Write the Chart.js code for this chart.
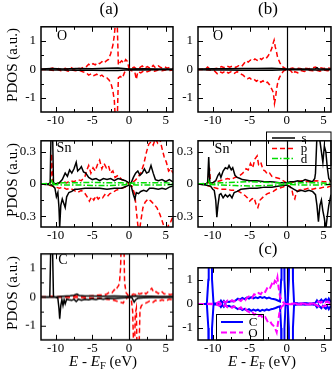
<!DOCTYPE html>
<html>
<head>
<meta charset="utf-8">
<script src="https://cdn.jsdelivr.net/npm/chart.js@4.4.1/dist/chart.umd.min.js"></script>
<style>
  body { margin: 0; background: #fff; }
  #fig { position: relative; width: 332px; height: 373px; overflow: hidden; background: #fff;
         font-family: "Liberation Serif", "Times New Roman", serif; color: #000; }
  .t { position: absolute; transform: translate(-50%, -50%); white-space: nowrap; line-height: 1; }
  .rot { transform: translate(-50%, -50%) rotate(-90deg); }
  sub { font-size: 70%; vertical-align: -0.3em; }
</style>
</head>
<body>
<div id="fig">
  <div class="t" style="left:109px;top:8px;font-size:17px">(a)</div>
  <div class="t" style="left:268px;top:8px;font-size:17px">(b)</div>
  <div class="t" style="left:268px;top:248px;font-size:17px">(c)</div>

  <div class="t rot" style="left:12px;top:65px;font-size:15px">PDOS (a.u.)</div>
  <div class="t rot" style="left:12px;top:180px;font-size:15px">PDOS (a.u.)</div>
  <div class="t rot" style="left:12px;top:293px;font-size:15px">PDOS (a.u.)</div>

  <div class="t" style="left:103px;top:363px;font-size:15px"><i>E</i> - <i>E</i><sub>F</sub> (eV)</div>
  <div class="t" style="left:262px;top:363px;font-size:15px"><i>E</i> - <i>E</i><sub>F</sub> (eV)</div>

  <div class="t" style="left:62px;top:36px;font-size:14px">O</div>
  <div class="t" style="left:218px;top:36px;font-size:14px">O</div>
  <div class="t" style="left:64px;top:148px;font-size:14px">Sn</div>
  <div class="t" style="left:222px;top:149px;font-size:14px">Sn</div>
  <div class="t" style="left:63px;top:260px;font-size:14px">C</div>
</div>
<script>
// axis ranges and ticks
const xRange = [-12, 6];
const xTicks = [-10, -5, 0, 5];
const xMinor = [-7.5, -2.5, 2.5];
const yTicksO = [-1, 0, 1];
const yMinorO = [-0.5, 0.5];
const yTicksSn = [-0.3, 0, 0.3];
const yMinorSn = [-0.15, 0.15];

// (a) O
const aO_p_up = [[-12,0],[-11,0.01],[-10.4,0.05],[-10.1,0],[-9.6,0.03],[-9.2,-0.02],[-8.7,0.04],[-8.3,0],[-7.9,0.06],[-7.5,0.01],[-7.1,0.05],[-6.6,0.02],[-6.2,0.08],[-5.8,0.1],[-5.5,0.18],[-5.2,0.14],[-4.9,0.2],[-4.6,0.16],[-4.3,0.24],[-4,0.2],[-3.7,0.27],[-3.4,0.22],[-3.1,0.3],[-2.8,0.35],[-2.5,0.55],[-2.2,0.85],[-2,1.2],[-1.8,1.8],[-1.6,1.6],[-1.45,0.15],[-1.2,0.25],[-1,0.3],[-0.7,0.22],[-0.45,0.35],[-0.2,0.28],[0,0.02],[0.3,0.03],[0.7,0.08],[1,0.02],[1.4,0.05],[1.8,0.12],[2.1,0.04],[2.5,0.1],[2.9,0.03],[3.3,0.14],[3.6,0.06],[4,0.12],[4.4,0.05],[4.8,0.1],[5.2,0.04],[5.6,0.08],[6,0.03]];
const aO_p_dn = [[-12,0],[-11,-0.01],[-10.3,-0.04],[-9.8,0],[-9.3,-0.05],[-8.8,-0.01],[-8.3,-0.06],[-7.8,-0.02],[-7.3,-0.05],[-6.8,-0.03],[-6.3,-0.08],[-5.8,-0.12],[-5.5,-0.2],[-5.1,-0.15],[-4.8,-0.22],[-4.4,-0.17],[-4.1,-0.25],[-3.7,-0.2],[-3.4,-0.28],[-3,-0.3],[-2.7,-0.38],[-2.4,-0.55],[-2.2,-0.75],[-2,-1.1],[-1.85,-1.8],[-1.6,-1.8],[-1.45,-0.3],[-1.2,-0.25],[-0.9,-0.3],[-0.6,-0.1],[-0.3,-0.05],[0,-0.01],[0.4,-0.05],[0.8,-0.1],[1,-0.35],[1.2,-0.08],[1.6,-0.12],[2,-0.05],[2.5,-0.08],[3,-0.03],[3.5,-0.06],[4,-0.02],[4.5,-0.05],[5,-0.02],[5.5,-0.04],[6,-0.02]];
const aO_s_up = [[-12,0.01],[-10.5,0.03],[-9,0.01],[-7,0.03],[-5,0.02],[-3,0.04],[-1.5,0.05],[0,0.01],[2,0.02],[4,0.01],[6,0.01]];
const aO_s_dn = [[-12,-0.01],[-10.5,-0.02],[-9,-0.02],[-7,-0.03],[-5,-0.03],[-3,-0.04],[-1.5,-0.04],[0,-0.01],[2,-0.02],[4,-0.01],[6,-0.01]];

// (b) O
const bO_p_up = [[-12,0],[-11,0.01],[-10.7,0.08],[-10.4,0.01],[-9.8,0.02],[-9.2,0.05],[-8.8,0.1],[-8.5,0.06],[-8.1,0.12],[-7.7,0.08],[-7.3,0.12],[-6.9,0.07],[-6.5,0.13],[-6.1,0.1],[-5.8,0.2],[-5.5,0.3],[-5.2,0.26],[-4.9,0.33],[-4.6,0.3],[-4.3,0.37],[-4,0.32],[-3.7,0.4],[-3.4,0.35],[-3.1,0.42],[-2.8,0.38],[-2.5,0.48],[-2.2,0.62],[-2,0.75],[-1.8,0.95],[-1.7,1.03],[-1.55,0.8],[-1.4,0.65],[-1.25,0.45],[-1.1,0.35],[-0.9,0.22],[-0.6,0.1],[-0.3,0.05],[0,0.01],[0.4,0.02],[0.8,0.05],[1.2,0.01],[1.6,0.04],[2,0.02],[2.5,0.04],[3,0.02],[3.5,0.05],[3.9,0.08],[4.2,0.03],[4.6,0.06],[5,0.03],[5.5,0.06],[6,0.03]];
const bO_p_dn = [[-12,0],[-11,-0.01],[-10.5,-0.02],[-9.8,-0.05],[-9.4,-0.15],[-9.1,-0.08],[-8.7,-0.12],[-8.3,-0.06],[-7.9,-0.13],[-7.5,-0.08],[-7.1,-0.14],[-6.7,-0.08],[-6.3,-0.15],[-5.9,-0.2],[-5.6,-0.28],[-5.3,-0.33],[-5,-0.3],[-4.7,-0.37],[-4.4,-0.35],[-4.1,-0.42],[-3.8,-0.36],[-3.5,-0.45],[-3.2,-0.4],[-2.9,-0.48],[-2.6,-0.45],[-2.3,-0.55],[-2,-0.7],[-1.8,-0.82],[-1.65,-1.2],[-1.5,-1],[-1.4,-0.75],[-1.2,-0.45],[-1,-0.3],[-0.7,-0.15],[-0.4,-0.05],[0,-0.01],[0.5,-0.03],[0.9,-0.16],[1.1,-0.08],[1.5,-0.12],[1.9,-0.04],[2.4,-0.07],[3,-0.03],[3.5,-0.05],[4,-0.03],[4.5,-0.06],[5,-0.02],[5.5,-0.05],[6,-0.02]];
const bO_s_up = [[-12,0.01],[-10,0.02],[-8,0.02],[-6,0.03],[-4,0.03],[-2,0.04],[0,0.01],[2,0.01],[3.9,0.02],[4.1,0.06],[4.3,0.02],[6,0.01]];
const bO_s_dn = [[-12,-0.01],[-10,-0.02],[-8,-0.02],[-6,-0.03],[-4,-0.03],[-2,-0.03],[0,-0.01],[2,-0.01],[4,-0.02],[6,-0.01]];

// (a) Sn
const aSn_s_up = [[-12,0],[-11,0],[-10.75,0.01],[-10.6,0.6],[-10.45,0.6],[-10.3,0.01],[-10,0],[-9.5,0.01],[-9.1,0.04],[-8.7,0.1],[-8.4,0.07],[-8.1,0.13],[-7.8,0.1],[-7.5,0.14],[-7.2,0.2],[-7,0.12],[-6.7,0.14],[-6.5,0.16],[-6.2,0.11],[-5.9,0.1],[-5.5,0.06],[-5,0.04],[-4.5,0.05],[-4,0.03],[-3.5,0.05],[-3,0.04],[-2.5,0.05],[-2,0.03],[-1.5,0.05],[-1,0.04],[-0.5,0.03],[0,0.01],[0.3,0.01],[0.6,0.06],[0.9,0.1],[1.2,0.12],[1.5,0.08],[1.8,0.1],[2.1,0.14],[2.4,0.1],[2.7,0.11],[3,0.17],[3.3,0.1],[3.6,0.04],[4,0.03],[4.5,0.04],[5,0.02],[5.5,0.04],[6,0.02]];
const aSn_s_dn = [[-12,0],[-10.5,-0.01],[-10.1,-0.04],[-9.9,-0.12],[-9.7,-0.08],[-9.55,-0.22],[-9.45,-0.4],[-9.3,-0.2],[-9.1,-0.14],[-8.9,-0.18],[-8.7,-0.22],[-8.5,-0.12],[-8.2,-0.08],[-7.8,-0.07],[-7.4,-0.05],[-7,-0.05],[-6,-0.04],[-5,-0.04],[-4,-0.04],[-3,-0.05],[-2,-0.04],[-1,-0.04],[-0.3,-0.02],[0,-0.01],[0.3,-0.02],[0.6,-0.1],[0.8,-0.14],[1,-0.08],[1.3,-0.09],[1.6,-0.07],[2,-0.06],[2.4,-0.07],[2.8,-0.04],[3.3,-0.04],[4,-0.05],[4.5,-0.04],[5,-0.05],[5.5,-0.03],[6,-0.02]];
const aSn_p_up = [[-12,0],[-11,0],[-10.7,0.01],[-10.55,0.28],[-10.4,0.01],[-10,0],[-9.5,0.01],[-9,0.02],[-8.5,0.01],[-8,0.03],[-7.5,0.02],[-7,0.04],[-6.5,0.03],[-6,0.07],[-5.8,0.12],[-5.5,0.17],[-5.2,0.1],[-4.9,0.15],[-4.6,0.12],[-4.3,0.18],[-4,0.22],[-3.7,0.14],[-3.4,0.19],[-3.1,0.15],[-2.8,0.17],[-2.5,0.1],[-2.2,0.12],[-1.9,0.06],[-1.5,0.08],[-1,0.04],[-0.5,0.03],[0,0],[0.4,0.01],[0.8,0.03],[1.2,0.06],[1.6,0.1],[2,0.18],[2.4,0.3],[2.7,0.37],[3,0.39],[3.3,0.36],[3.6,0.42],[3.9,0.38],[4.2,0.42],[4.5,0.33],[4.8,0.25],[5.1,0.2],[5.4,0.12],[5.7,0.14],[6,0.1]];
const aSn_p_dn = [[-12,0],[-11,-0.01],[-10.5,-0.02],[-10,-0.03],[-9.5,-0.04],[-9,-0.03],[-8.5,-0.05],[-8,-0.04],[-7.5,-0.06],[-7,-0.08],[-6.5,-0.06],[-6,-0.09],[-5.7,-0.12],[-5.4,-0.16],[-5.1,-0.12],[-4.8,-0.15],[-4.5,-0.11],[-4.2,-0.14],[-3.9,-0.12],[-3.6,-0.13],[-3.3,-0.1],[-3,-0.12],[-2.6,-0.09],[-2.2,-0.08],[-1.8,-0.06],[-1.4,-0.05],[-1,-0.04],[-0.5,-0.03],[0,-0.01],[0.4,-0.02],[0.8,-0.1],[1,-0.25],[1.2,-0.38],[1.4,-0.45],[1.6,-0.35],[1.9,-0.22],[2.2,-0.17],[2.6,-0.14],[3,-0.16],[3.4,-0.19],[3.8,-0.22],[4.2,-0.28],[4.5,-0.34],[4.8,-0.4],[5.1,-0.45],[5.4,-0.38],[5.7,-0.35],[6,-0.3]];
const aSn_d_up = [[-12,0],[-10.7,0.005],[-10.55,0.03],[-10.4,0.005],[-9,0.01],[-7,0.01],[-5,0.015],[-3,0.01],[-1,0.01],[0,0.005],[1,0.01],[3,0.01],[5,0.01],[6,0.005]];
const aSn_d_dn = [[-12,0],[-10.5,-0.005],[-9,-0.01],[-7,-0.01],[-5,-0.015],[-3,-0.015],[-1,-0.01],[0,-0.005],[1,-0.01],[3,-0.01],[5,-0.01],[6,-0.005]];

// (b) Sn
const bSn_s_up = [[-12,0],[-11,0],[-10.7,0.01],[-10.55,0.25],[-10.4,0.01],[-10,0.01],[-9.6,0.03],[-9.3,0.08],[-9.1,0.1],[-8.9,0.06],[-8.6,0.12],[-8.3,0.15],[-8,0.14],[-7.8,0.17],[-7.5,0.13],[-7.3,0.15],[-7,0.08],[-6.7,0.06],[-6.3,0.05],[-6,0.04],[-5,0.03],[-4,0.03],[-3,0.02],[-2,0.02],[-1,0.01],[0,0.01],[0.5,0.02],[1,0.02],[1.5,0.03],[2,0.02],[2.5,0.04],[3,0.03],[3.5,0.02],[3.8,0.05],[3.9,0.1],[4.1,0.45],[4.3,0.5],[4.5,0.4],[4.7,0.3],[4.9,0.2],[5.1,0.35],[5.3,0.3],[5.5,0.15],[5.7,0.05],[6,0.02]];
const bSn_s_dn = [[-12,0],[-11,-0.01],[-10.3,-0.02],[-10,-0.05],[-9.8,-0.06],[-9.6,-0.15],[-9.45,-0.31],[-9.3,-0.2],[-9.1,-0.1],[-8.9,-0.09],[-8.6,-0.13],[-8.3,-0.1],[-8,-0.12],[-7.7,-0.1],[-7.4,-0.13],[-7.1,-0.08],[-6.7,-0.07],[-6.2,-0.05],[-5,-0.04],[-4,-0.04],[-3,-0.03],[-2,-0.03],[-1,-0.02],[0,-0.01],[0.5,-0.03],[1,-0.05],[1.5,-0.07],[2,-0.06],[2.5,-0.07],[3,-0.06],[3.5,-0.07],[3.9,-0.1],[4.1,-0.2],[4.3,-0.35],[4.5,-0.2],[4.7,-0.15],[4.9,-0.25],[5.1,-0.32],[5.3,-0.42],[5.5,-0.3],[5.7,-0.2],[6,-0.1]];
const bSn_p_up = [[-12,0],[-11,0],[-10.6,0.01],[-10.45,0.15],[-10.3,0.01],[-10,0.01],[-9.5,0.02],[-9,0.03],[-8.5,0.04],[-8,0.05],[-7.5,0.04],[-7,0.06],[-6.5,0.07],[-6.1,0.09],[-5.8,0.11],[-5.5,0.14],[-5.2,0.13],[-4.9,0.19],[-4.6,0.15],[-4.3,0.23],[-4,0.26],[-3.8,0.18],[-3.5,0.2],[-3.2,0.13],[-2.9,0.12],[-2.6,0.09],[-2.3,0.1],[-2,0.07],[-1.5,0.06],[-1,0.05],[-0.5,0.03],[0,0.01],[0.5,0.01],[1,0.02],[1.5,0.02],[2,0.03],[3,0.02],[4,0.03],[5,0.02],[6,0.02]];
const bSn_p_dn = [[-12,0],[-11,-0.01],[-10.5,-0.02],[-10,-0.03],[-9.5,-0.04],[-9,-0.05],[-8.5,-0.05],[-8,-0.05],[-7.5,-0.06],[-7,-0.06],[-6.5,-0.07],[-6,-0.09],[-5.6,-0.11],[-5.3,-0.13],[-5,-0.16],[-4.7,-0.14],[-4.4,-0.13],[-4.1,-0.2],[-3.9,-0.22],[-3.6,-0.15],[-3.3,-0.13],[-3,-0.11],[-2.6,-0.09],[-2.2,-0.08],[-1.8,-0.07],[-1.4,-0.05],[-1,-0.04],[-0.5,-0.03],[0,-0.01],[0.4,-0.02],[0.7,-0.05],[0.9,-0.12],[1.1,-0.14],[1.3,-0.08],[1.6,-0.06],[2,-0.05],[2.5,-0.05],[3,-0.04],[3.5,-0.05],[4,-0.04],[4.5,-0.04],[5,-0.03],[5.5,-0.03],[6,-0.02]];
const bSn_d_up = [[-12,0],[-10.7,0.005],[-10.55,0.03],[-10.4,0.005],[-9,0.01],[-7,0.015],[-5,0.02],[-3,0.015],[-1,0.01],[0,0.005],[2,0.01],[4,0.01],[6,0.005]];
const bSn_d_dn = [[-12,0],[-10.5,-0.005],[-9,-0.01],[-7,-0.015],[-5,-0.02],[-3,-0.015],[-1,-0.01],[0,-0.005],[2,-0.01],[4,-0.01],[6,-0.005]];

// (a) C
const aC_s_up = [[-12,0],[-11,0],[-10.8,0.01],[-10.65,2],[-10.45,2],[-10.3,0.01],[-10,0],[-9.5,0.01],[-9,0.02],[-8.5,0.03],[-8,0.04],[-7.5,0.06],[-7.1,0.1],[-6.8,0.05],[-6.4,0.04],[-6,0.03],[-5,0.03],[-4,0.02],[-3,0.02],[-2,0.03],[-1,0.02],[0,0.01],[0.5,0.02],[1,0.03],[2,0.02],[3,0.02],[4,0.01],[5,0.01],[6,0.01]];
const aC_s_dn = [[-12,0],[-10,-0.01],[-9.7,-0.05],[-9.55,-0.4],[-9.45,-0.77],[-9.3,-0.3],[-9.15,-0.1],[-9,-0.3],[-8.85,-0.1],[-8.7,-0.24],[-8.5,-0.08],[-8.2,-0.1],[-7.8,-0.12],[-7.5,-0.08],[-7.2,-0.16],[-6.9,-0.08],[-6.5,-0.12],[-6,-0.08],[-5.5,-0.1],[-5,-0.07],[-4.5,-0.09],[-4,-0.06],[-3.5,-0.08],[-3,-0.05],[-2,-0.06],[-1,-0.04],[-0.5,-0.03],[0,-0.01],[0.4,-0.03],[0.7,-0.18],[0.9,-0.1],[1.2,-0.05],[2,-0.03],[3,-0.02],[4,-0.02],[5,-0.02],[6,-0.01]];
const aC_p_up = [[-12,0],[-11,0],[-10.5,0.02],[-10,0],[-9,0.01],[-8,0.02],[-7,0.03],[-6,0.02],[-5,0.04],[-4.5,0.05],[-4,0.07],[-3.5,0.06],[-3,0.1],[-2.6,0.18],[-2.3,0.15],[-2,0.25],[-1.8,0.22],[-1.6,0.33],[-1.4,0.4],[-1.3,0.5],[-1.15,1],[-1.05,2],[-0.7,2],[-0.6,0.5],[-0.4,0.15],[-0.1,0.05],[0,0.02],[0.3,0.05],[0.6,0.1],[0.9,0.08],[1.1,0.15],[1.4,0.1],[1.7,0.12],[2,0.18],[2.3,0.1],[2.7,0.2],[3.1,0.3],[3.4,0.15],[3.7,0.18],[4,0.12],[4.4,0.2],[4.8,0.1],[5.2,0.12],[5.6,0.08],[6,0.1]];
const aC_p_dn = [[-12,0],[-11,0],[-10,-0.01],[-9,-0.01],[-8,-0.02],[-7,-0.02],[-6,-0.03],[-5,-0.04],[-4,-0.05],[-3.5,-0.06],[-3,-0.08],[-2.5,-0.1],[-2,-0.12],[-1.6,-0.15],[-1.3,-0.18],[-1,-0.2],[-0.8,-0.22],[-0.5,-0.08],[-0.2,-0.03],[0,-0.01],[0.3,-0.05],[0.5,-0.5],[0.65,-2],[0.75,-2],[0.85,-0.6],[1,-0.4],[1.1,-2],[1.35,-2],[1.5,-0.45],[1.7,-0.3],[2,-0.25],[2.4,-0.2],[2.8,-0.15],[3.2,-0.2],[3.6,-0.12],[4,-0.15],[4.5,-0.1],[5,-0.14],[5.5,-0.08],[6,-0.1]];

// (c) C and O
const c_C_up = [[-12,0],[-11,0],[-10.8,0.02],[-10.6,1],[-10.55,3],[-10.15,3],[-10.1,1],[-9.9,0.02],[-9.5,0.02],[-9.1,0.05],[-8.9,0.14],[-8.7,0.04],[-8.5,0.12],[-8.3,0.03],[-8.1,0.1],[-7.8,0.08],[-7.5,0.12],[-7.2,0.1],[-6.9,0.15],[-6.6,0.22],[-6.3,0.18],[-6,0.25],[-5.7,0.2],[-5.4,0.26],[-5.1,0.22],[-4.8,0.28],[-4.5,0.23],[-4.2,0.27],[-3.9,0.24],[-3.6,0.29],[-3.3,0.25],[-3,0.28],[-2.7,0.23],[-2.4,0.26],[-2.1,0.22],[-1.8,0.2],[-1.5,0.18],[-1.2,0.14],[-0.9,0.1],[-0.75,1],[-0.7,3],[-0.35,3],[-0.3,1],[-0.15,0.05],[0.15,0.05],[0.3,1],[0.35,3],[0.8,3],[0.85,1],[1,0.05],[1.5,0.03],[2,0.02],[2.5,0.04],[3,0.02],[3.5,0.03],[3.9,0.05],[4.1,0.15],[4.3,0.06],[4.5,0.12],[4.7,0.18],[4.9,0.08],[5.1,0.15],[5.3,0.2],[5.5,0.1],[5.7,0.22],[5.9,0.12],[6,0.08]];
const c_C_dn = [[-12,0],[-11,0],[-10.8,-0.02],[-10.6,-1],[-10.55,-3],[-10.15,-3],[-10.1,-1],[-9.9,-0.02],[-9.5,-0.02],[-9.1,-0.05],[-8.9,-0.13],[-8.7,-0.04],[-8.5,-0.12],[-8.3,-0.03],[-8.1,-0.1],[-7.8,-0.08],[-7.5,-0.13],[-7.2,-0.1],[-6.9,-0.16],[-6.6,-0.22],[-6.3,-0.18],[-6,-0.26],[-5.7,-0.21],[-5.4,-0.27],[-5.1,-0.22],[-4.8,-0.29],[-4.5,-0.24],[-4.2,-0.28],[-3.9,-0.24],[-3.6,-0.3],[-3.3,-0.25],[-3,-0.28],[-2.7,-0.23],[-2.4,-0.26],[-2.1,-0.22],[-1.8,-0.2],[-1.5,-0.17],[-1.2,-0.13],[-0.9,-0.1],[-0.75,-1],[-0.7,-3],[-0.35,-3],[-0.3,-1],[-0.15,-0.05],[0.15,-0.05],[0.3,-1],[0.35,-3],[0.8,-3],[0.85,-1],[1,-0.05],[1.5,-0.03],[2,-0.02],[2.5,-0.04],[3,-0.02],[3.5,-0.03],[3.9,-0.05],[4.1,-0.14],[4.3,-0.06],[4.5,-0.12],[4.7,-0.18],[4.9,-0.08],[5.1,-0.15],[5.3,-0.2],[5.5,-0.1],[5.7,-0.22],[5.9,-0.12],[6,-0.08]];
const c_O_up = [[-12,0],[-11,0],[-10,0.01],[-9.5,0.02],[-9.2,0.08],[-8.9,0.03],[-8.6,0.12],[-8.3,0.05],[-8,0.14],[-7.7,0.08],[-7.4,0.15],[-7.1,0.1],[-6.8,0.13],[-6.5,0.18],[-6.2,0.12],[-5.9,0.22],[-5.6,0.16],[-5.3,0.28],[-5,0.33],[-4.7,0.25],[-4.4,0.4],[-4.1,0.36],[-3.8,0.45],[-3.5,0.4],[-3.2,0.55],[-2.9,0.5],[-2.6,0.68],[-2.3,0.62],[-2,0.83],[-1.8,0.75],[-1.6,0.96],[-1.4,0.9],[-1.25,1.1],[-1.1,0.7],[-0.9,0.3],[-0.6,0.1],[-0.3,0.02],[0,0],[0.5,0.01],[1,0.02],[1.5,0.01],[2,0.02],[2.5,0.01],[3,0.02],[3.5,0.01],[4,0.04],[4.3,0.1],[4.6,0.05],[4.9,0.12],[5.2,0.06],[5.5,0.1],[5.8,0.04],[6,0.02]];
const c_O_dn = [[-12,0],[-11,0],[-10,-0.01],[-9.5,-0.02],[-9.2,-0.07],[-8.9,-0.03],[-8.6,-0.12],[-8.3,-0.05],[-8,-0.14],[-7.7,-0.09],[-7.4,-0.16],[-7.1,-0.1],[-6.8,-0.15],[-6.5,-0.2],[-6.2,-0.14],[-5.9,-0.25],[-5.6,-0.2],[-5.3,-0.3],[-5,-0.35],[-4.7,-0.3],[-4.4,-0.45],[-4.1,-0.4],[-3.8,-0.5],[-3.5,-0.46],[-3.2,-0.6],[-2.9,-0.55],[-2.6,-0.72],[-2.3,-0.68],[-2,-0.85],[-1.8,-0.9],[-1.6,-1.0],[-1.45,-1.1],[-1.35,-1.18],[-1.2,-0.85],[-1,-0.4],[-0.7,-0.12],[-0.3,-0.02],[0,0],[0.5,-0.01],[1,-0.02],[1.5,-0.01],[2,-0.02],[2.5,-0.01],[3,-0.02],[3.5,-0.01],[4,-0.04],[4.3,-0.1],[4.6,-0.05],[4.9,-0.12],[5.2,-0.06],[5.5,-0.1],[5.8,-0.04],[6,-0.02]];

Chart.defaults.font.family = '"Liberation Serif", "Times New Roman", serif';
Chart.defaults.font.size = 13;
Chart.defaults.color = '#000';

const black = (d) => ({ data: d, borderColor: '#000', borderWidth: 1.5 });
const red = (d) => ({ data: d, borderColor: '#ff0000', borderWidth: 1.5, borderDash: [5, 3] });
const green = (d) => ({ data: d, borderColor: '#00dd00', borderWidth: 1.5, borderDash: [6, 2, 1.5, 2] });
const blue = (d) => ({ data: d, borderColor: '#0000ff', borderWidth: 2 });
const magenta = (d) => ({ data: d, borderColor: '#ff00ff', borderWidth: 2, borderDash: [6, 3] });

// box, inward ticks, Fermi line, legend samples
const frame = {
  id: 'frame',
  beforeDatasetsDraw(chart) {
    const { ctx, chartArea: a, scales: { x } } = chart;
    const x0 = Math.round(x.getPixelForValue(0)) + 0.5;
    ctx.save();
    ctx.strokeStyle = '#000';
    ctx.lineWidth = 1.2;
    ctx.beginPath();
    ctx.moveTo(x0, a.top);
    ctx.lineTo(x0, a.bottom);
    ctx.stroke();
    ctx.restore();
  },
  afterDatasetsDraw(chart, args, opts) {
    const { ctx, chartArea: a, scales: { x, y } } = chart;
    ctx.save();
    ctx.strokeStyle = '#000';
    ctx.lineWidth = 1;
    const tick = (vals, len, horiz) => {
      vals.forEach(v => {
        ctx.beginPath();
        if (horiz) {
          const p = Math.round(x.getPixelForValue(v)) + 0.5;
          ctx.moveTo(p, a.bottom); ctx.lineTo(p, a.bottom - len);
          ctx.moveTo(p, a.top); ctx.lineTo(p, a.top + len);
        } else {
          const p = Math.round(y.getPixelForValue(v)) + 0.5;
          ctx.moveTo(a.left, p); ctx.lineTo(a.left + len, p);
          ctx.moveTo(a.right, p); ctx.lineTo(a.right - len, p);
        }
        ctx.stroke();
      });
    };
    tick(xTicks, 5, true);
    tick(xMinor, 3, true);
    tick(opts.yMajor, 5, false);
    tick(opts.yMinor, 3, false);
    ctx.lineWidth = 1.5;
    ctx.strokeRect(a.left, a.top, a.right - a.left, a.bottom - a.top);
    if (opts.legend) {
      const L = opts.legend;
      ctx.lineWidth = 1;
      ctx.strokeRect(L.box[0], L.box[1], L.box[2], L.box[3]);
      L.items.forEach(it => {
        ctx.strokeStyle = it.borderColor;
        ctx.lineWidth = it.borderWidth;
        ctx.setLineDash(it.borderDash || []);
        ctx.beginPath();
        ctx.moveTo(L.x0, it.y);
        ctx.lineTo(L.x1, it.y);
        ctx.stroke();
      });
    }
    ctx.restore();
  }
};

function makePanel(box, yRange, yMajor, yMinor, sets, legend) {
  const axisW = 40, axisH = 18;
  const left = box.l - axisW, top = box.t - 4;
  const w = Math.min(332, box.r + 2) - left;
  const h = box.b + axisH - top;
  const cv = document.createElement('canvas');
  cv.width = w; cv.height = h;
  cv.style.cssText = `position:absolute;left:${left}px;top:${top}px;width:${w}px;height:${h}px`;
  document.getElementById('fig').insertBefore(cv, document.getElementById('fig').firstChild);
  // legend coordinates are given in page pixels, shift into the canvas
  let lg = null;
  if (legend) {
    lg = {
      box: [legend.box[0] - left, legend.box[1] - top, legend.box[2], legend.box[3]],
      x0: legend.x0 - left, x1: legend.x1 - left,
      items: legend.items.map(it => Object.assign({}, it, { y: it.y - top }))
    };
  }
  new Chart(cv, {
    type: 'line',
    data: { datasets: sets },
    options: {
      responsive: false,
      animation: false,
      devicePixelRatio: 1,
      parsing: true,
      elements: { point: { radius: 0 }, line: { tension: 0, fill: false } },
      layout: { padding: { left: 0, top: 4, right: w - (box.r - left), bottom: 0 } },
      plugins: { legend: { display: false }, tooltip: { enabled: false },
                 frame: { yMajor: yMajor, yMinor: yMinor, legend: lg } },
      scales: {
        x: {
          type: 'linear', min: xRange[0], max: xRange[1],
          grid: { display: false, drawTicks: false }, border: { display: false },
          ticks: { padding: 1, maxRotation: 0, callback: v => String(v) },
          afterBuildTicks: s => { s.ticks = xTicks.map(v => ({ value: v })); },
          afterFit: s => { s.height = axisH; }
        },
        y: {
          type: 'linear', min: yRange[0], max: yRange[1],
          grid: { display: false, drawTicks: false }, border: { display: false },
          ticks: { padding: 5, callback: v => String(v) },
          afterBuildTicks: s => { s.ticks = yMajor.map(v => ({ value: v })); },
          afterFit: s => { s.width = axisW; }
        }
      }
    },
    plugins: [frame]
  });
}

makePanel({ l: 41, t: 18, r: 173, b: 112 }, [-1.5, 1.5], yTicksO, yMinorO,
  [black(aO_s_up), black(aO_s_dn), red(aO_p_up), red(aO_p_dn)]);
makePanel({ l: 198, t: 18, r: 331, b: 112 }, [-1.5, 1.5], yTicksO, yMinorO,
  [black(bO_s_up), black(bO_s_dn), red(bO_p_up), red(bO_p_dn)]);
makePanel({ l: 41, t: 131.5, r: 173, b: 226.5 }, [-0.4, 0.4], yTicksSn, yMinorSn,
  [green(aSn_d_up), green(aSn_d_dn), black(aSn_s_up), black(aSn_s_dn), red(aSn_p_up), red(aSn_p_dn)]);
makePanel({ l: 198, t: 131.5, r: 331, b: 226.5 }, [-0.4, 0.4], yTicksSn, yMinorSn,
  [green(bSn_d_up), green(bSn_d_dn), black(bSn_s_up), black(bSn_s_dn), red(bSn_p_up), red(bSn_p_dn)],
  { box: [266.5, 131.5, 64.5, 33.5], x0: 272, x1: 295,
    items: [Object.assign(black([]), { y: 137.5 }), Object.assign(red([]), { y: 148 }), Object.assign(green([]), { y: 158 })] });
makePanel({ l: 41, t: 245, r: 173, b: 339.5 }, [-1.5, 1.5], yTicksO, yMinorO,
  [black(aC_s_up), black(aC_s_dn), red(aC_p_up), red(aC_p_dn)]);
makePanel({ l: 198, t: 258.5, r: 331, b: 339.5 }, [-1.5, 1.5], yTicksO, yMinorO,
  [magenta(c_O_up), magenta(c_O_dn), blue(c_C_up), blue(c_C_dn)],
  { box: [216.5, 314, 47, 25.5], x0: 221, x1: 243,
    items: [Object.assign(blue([]), { y: 321.5 }), Object.assign(magenta([]), { y: 332 })] });
</script>
<div style="position:absolute;left:0;top:0;width:332px;height:373px;pointer-events:none;font-family:'Liberation Serif','Times New Roman',serif;font-size:13px">
  <div class="t" style="left:304px;top:137px">s</div>
  <div class="t" style="left:304px;top:147px">p</div>
  <div class="t" style="left:304px;top:158px">d</div>
  <div class="t" style="left:253px;top:321px">C</div>
  <div class="t" style="left:253px;top:332px">O</div>
</div>
</body>
</html>
